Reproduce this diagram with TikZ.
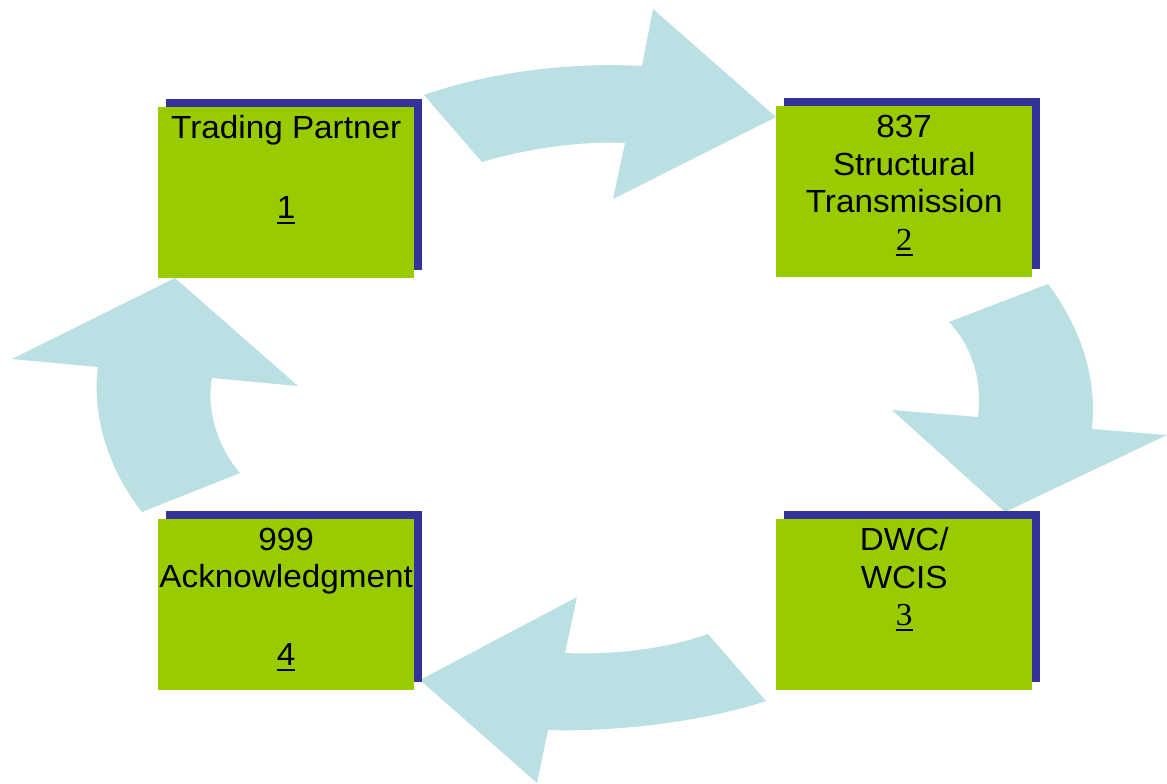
\documentclass[tikz,border=0pt]{standalone}
\usepackage{fontspec}
\setmainfont[FakeStretch=1.04]{Liberation Sans}
\newfontfamily\timesfont[FakeStretch=1.04]{Liberation Serif}
\newcommand\myul[1]{\setbox0\hbox{#1}\rlap{\rule[-5.5pt]{\wd0}{2pt}}\box0}
\definecolor{arrowblue}{HTML}{BBE0E3}
\definecolor{boxgreen}{HTML}{99CC00}
\definecolor{shadowblue}{HTML}{333399}
\tikzset{
  blockarrow/.style={fill=arrowblue, draw=none},
  shadowbox/.style={rectangle, fill=shadowblue, draw=none, inner sep=0pt, anchor=north west, minimum width=256pt, minimum height=171pt},
  greenbox/.style={rectangle, fill=boxgreen, draw=none, inner sep=0pt, anchor=north west, minimum width=256pt, minimum height=171pt},
  boxtext/.style={anchor=north, inner sep=0pt, align=center, text=black, font=\fontsize{32}{37.5}\selectfont}
}
\begin{document}
\begin{tikzpicture}[x=1pt,y=-1pt]
\useasboundingbox (0,0) rectangle (1167,784);
% curved block arrows
\fill[blockarrow] (424,95) .. controls (490,72) and (570,62) .. (642,66) -- (653,9) -- (776,117) -- (613,199) -- (625,143) .. controls (580,141) and (530,148) .. (482,162) -- cycle;
\fill[blockarrow] (1048,284) .. controls (1075,320) and (1098,370) .. (1092,429) -- (1167,435) -- (1005,512) -- (892,410) -- (978,417) .. controls (982,385) and (975,350) .. (949,322) -- cycle;
\fill[blockarrow] (766,701) -- (708,634) .. controls (665,649) and (615,655) .. (565,653) -- (577,597) -- (420,680) -- (537,783) -- (548,730) .. controls (610,732) and (700,723) .. (766,701) -- cycle;
\fill[blockarrow] (142,512) -- (240,473) .. controls (218,448) and (206,410) .. (212,378) -- (298,386) -- (175,278) -- (12,359) -- (98,367) .. controls (92,410) and (105,465) .. (142,512) -- cycle;
% boxes
\node[shadowbox] (s1) at (166,99) {};
\node[greenbox] (b1) at (158,107) {};
\node[shadowbox] (s2) at (784,98) {};
\node[greenbox] (b2) at (776,106) {};
\node[shadowbox] (s3) at (784,511) {};
\node[greenbox] (b3) at (776,519) {};
\node[shadowbox] (s4) at (166,511) {};
\node[greenbox] (b4) at (158,519) {};
% texts
\node[boxtext] (t1) at ([yshift=-8.5pt]b1.north) {Trading Partner\\[42pt]\myul{1}};
\node[boxtext] (t2) at ([yshift=-9pt]b2.north) {837\\Structural\\Transmission\\{\timesfont\myul{2}}};
\node[boxtext] (t3) at ([yshift=-8.5pt]b3.north) {DWC/\\WCIS\\{\timesfont\myul{3}}};
\node[boxtext] (t4) at ([yshift=-8.5pt]b4.north) {999\\Acknowledgment\\[40pt]\myul{4}};
\end{tikzpicture}
\end{document}
